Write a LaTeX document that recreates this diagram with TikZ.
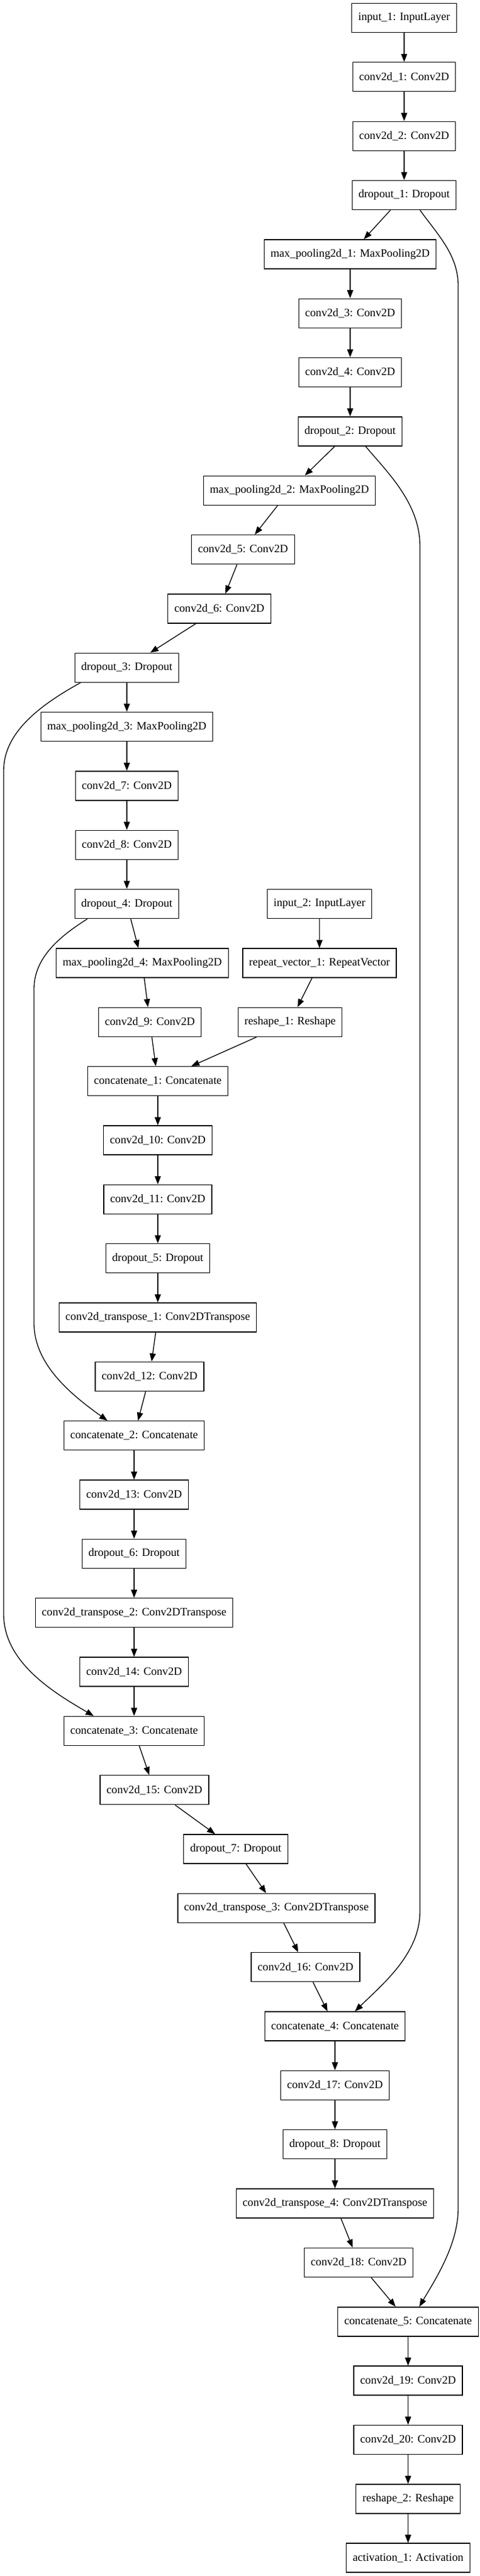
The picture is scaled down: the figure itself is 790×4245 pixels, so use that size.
\documentclass[tikz,border=0pt]{standalone}
\usepackage{fontspec}
\setmainfont{Liberation Serif}
\usetikzlibrary{arrows.meta}

\begin{document}
\begin{tikzpicture}[x=0.75pt, y=-0.75pt,
  layer/.style={draw, line width=1pt, minimum height=36pt, inner xsep=7.92pt, font=\fontsize{14pt}{17pt}\selectfont},
  arr/.style={line width=1pt, -{Triangle[length=10pt, width=7.5pt]}}]
\fill[white] (0,0) rectangle (790,4245);
% encoder
\node[layer] (i1) at (666,29.5) {input\_1: InputLayer};
\node[layer] (c1) at (666,126.8) {conv2d\_1: Conv2D};
\node[layer] (c2) at (666,224.2) {conv2d\_2: Conv2D};
\node[layer] (d1) at (666,321.5) {dropout\_1: Dropout};
\node[layer] (mp1) at (577,418.9) {max\_pooling2d\_1: MaxPooling2D};
\node[layer] (c3) at (577,516.2) {conv2d\_3: Conv2D};
\node[layer] (c4) at (577,613.5) {conv2d\_4: Conv2D};
\node[layer] (d2) at (577,710.9) {dropout\_2: Dropout};
\node[layer] (mp2) at (477,808.2) {max\_pooling2d\_2: MaxPooling2D};
\node[layer] (c5) at (400.5,905.6) {conv2d\_5: Conv2D};
\node[layer] (c6) at (361.5,1002.9) {conv2d\_6: Conv2D};
\node[layer] (d3) at (209,1100.2) {dropout\_3: Dropout};
\node[layer] (mp3) at (209,1197.6) {max\_pooling2d\_3: MaxPooling2D};
\node[layer] (c7) at (209,1294.9) {conv2d\_7: Conv2D};
\node[layer] (c8) at (209,1392.3) {conv2d\_8: Conv2D};
\node[layer] (d4) at (209,1489.6) {dropout\_4: Dropout};
\node[layer] (mp4) at (234.5,1587) {max\_pooling2d\_4: MaxPooling2D};
\node[layer] (c9) at (247,1684.3) {conv2d\_9: Conv2D};
% second input
\node[layer] (i2) at (526.5,1489.6) {input\_2: InputLayer};
\node[layer] (rv1) at (526.5,1587) {repeat\_vector\_1: RepeatVector};
\node[layer] (rs1) at (478,1684.3) {reshape\_1: Reshape};
% decoder
\node[layer] (cc1) at (260,1781.6) {concatenate\_1: Concatenate};
\node[layer] (c10) at (260,1879) {conv2d\_10: Conv2D};
\node[layer] (c11) at (260,1976.3) {conv2d\_11: Conv2D};
\node[layer] (d5) at (260,2073.6) {dropout\_5: Dropout};
\node[layer] (ct1) at (260,2171) {conv2d\_transpose\_1: Conv2DTranspose};
\node[layer] (c12) at (246.5,2268.3) {conv2d\_12: Conv2D};
\node[layer] (cc2) at (221,2365.7) {concatenate\_2: Concatenate};
\node[layer] (c13) at (221,2463) {conv2d\_13: Conv2D};
\node[layer] (d6) at (221,2560.3) {dropout\_6: Dropout};
\node[layer] (ct2) at (221,2657.7) {conv2d\_transpose\_2: Conv2DTranspose};
\node[layer] (c14) at (221,2755) {conv2d\_14: Conv2D};
\node[layer] (cc3) at (221,2852.4) {concatenate\_3: Concatenate};
\node[layer] (c15) at (254.5,2949.7) {conv2d\_15: Conv2D};
\node[layer] (d7) at (388.5,3047) {dropout\_7: Dropout};
\node[layer] (ct3) at (455.5,3144.4) {conv2d\_transpose\_3: Conv2DTranspose};
\node[layer] (c16) at (503.5,3241.7) {conv2d\_16: Conv2D};
\node[layer] (cc4) at (552,3339.1) {concatenate\_4: Concatenate};
\node[layer] (c17) at (552,3436.4) {conv2d\_17: Conv2D};
\node[layer] (d8) at (552,3533.7) {dropout\_8: Dropout};
\node[layer] (ct4) at (552,3631.1) {conv2d\_transpose\_4: Conv2DTranspose};
\node[layer] (c18) at (591,3728.4) {conv2d\_18: Conv2D};
\node[layer] (cc5) at (672.5,3825.8) {concatenate\_5: Concatenate};
\node[layer] (c19) at (672.5,3923.1) {conv2d\_19: Conv2D};
\node[layer] (c20) at (672.5,4020.4) {conv2d\_20: Conv2D};
\node[layer] (rs2) at (672.5,4117.8) {reshape\_2: Reshape};
\node[layer] (act1) at (672.5,4215.1) {activation\_1: Activation};

% main chain
\draw[arr] (i1) -- (c1);
\draw[arr] (c1) -- (c2);
\draw[arr] (c2) -- (d1);
\draw[arr] (d1) -- (mp1);
\draw[arr] (mp1) -- (c3);
\draw[arr] (c3) -- (c4);
\draw[arr] (c4) -- (d2);
\draw[arr] (d2) -- (mp2);
\draw[arr] (mp2) -- (c5);
\draw[arr] (c5) -- (c6);
\draw[arr] (c6) -- (d3);
\draw[arr] (d3) -- (mp3);
\draw[arr] (mp3) -- (c7);
\draw[arr] (c7) -- (c8);
\draw[arr] (c8) -- (d4);
\draw[arr] (d4) -- (mp4);
\draw[arr] (mp4) -- (c9);
\draw[arr] (i2) -- (rv1);
\draw[arr] (rv1) -- (rs1);
\draw[arr] (c9) -- (cc1);
\draw[arr] (rs1) -- (cc1);
\draw[arr] (cc1) -- (c10);
\draw[arr] (c10) -- (c11);
\draw[arr] (c11) -- (d5);
\draw[arr] (d5) -- (ct1);
\draw[arr] (ct1) -- (c12);
\draw[arr] (c12) -- (cc2);
\draw[arr] (cc2) -- (c13);
\draw[arr] (c13) -- (d6);
\draw[arr] (d6) -- (ct2);
\draw[arr] (ct2) -- (c14);
\draw[arr] (c14) -- (cc3);
\draw[arr] (cc3) -- (c15);
\draw[arr] (c15) -- (d7);
\draw[arr] (d7) -- (ct3);
\draw[arr] (ct3) -- (c16);
\draw[arr] (c16) -- (cc4);
\draw[arr] (cc4) -- (c17);
\draw[arr] (c17) -- (d8);
\draw[arr] (d8) -- (ct4);
\draw[arr] (ct4) -- (c18);
\draw[arr] (c18) -- (cc5);
\draw[arr] (cc5) -- (c19);
\draw[arr] (c19) -- (c20);
\draw[arr] (c20) -- (rs2);
\draw[arr] (rs2) -- (act1);

% skip connections
\draw[arr] ([xshift=19.5pt]d1.south) .. controls (720,385) and (755,420) .. (755,470) -- (755,3640) .. controls (755,3700) and (715,3760) .. ([xshift=13.9pt]cc5.north);
\draw[arr] ([xshift=19.1pt]d2.south) .. controls (640,780) and (692,830) .. (692,900) -- (692,3150) .. controls (692,3220) and (630,3270) .. ([xshift=24.75pt]cc4.north);
\draw[arr] ([xshift=-57pt]d3.south) .. controls (60,1165) and (6,1210) .. (6,1270) -- (6,2660) .. controls (6,2740) and (90,2790) .. ([xshift=-49.9pt]cc3.north);
\draw[arr] ([xshift=-48.75pt]d4.south) .. controls (95,1545) and (56,1580) .. (56,1630) -- (56,2180) .. controls (56,2250) and (120,2300) .. ([xshift=-33pt]cc2.north);
\end{tikzpicture}
\end{document}
